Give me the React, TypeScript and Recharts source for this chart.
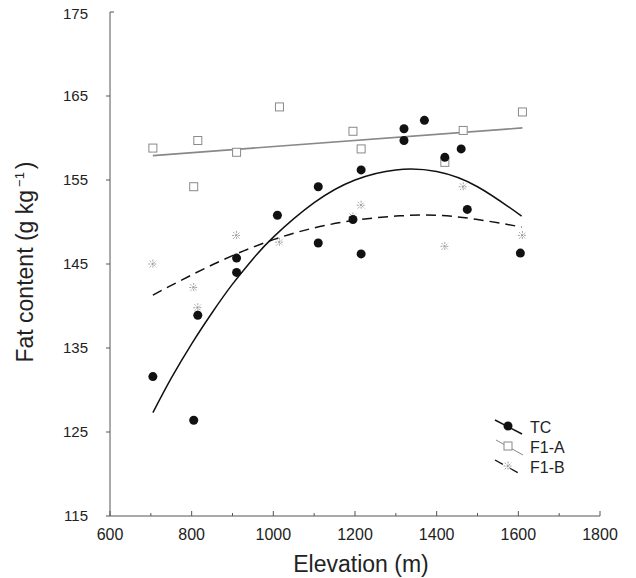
import { ComposedChart, Line, Scatter, XAxis, YAxis, Legend } from 'recharts'

// observed points (elevation m, fat content g/kg)
const tcPoints = [
  { x: 705, y: 131.6 }, { x: 805, y: 126.4 }, { x: 815, y: 138.9 },
  { x: 910, y: 145.7 }, { x: 910, y: 144.0 }, { x: 1010, y: 150.8 },
  { x: 1110, y: 154.2 }, { x: 1110, y: 147.5 }, { x: 1195, y: 150.3 },
  { x: 1215, y: 156.2 }, { x: 1215, y: 146.2 }, { x: 1320, y: 161.1 },
  { x: 1320, y: 159.7 }, { x: 1370, y: 162.1 }, { x: 1420, y: 157.7 },
  { x: 1460, y: 158.7 }, { x: 1475, y: 151.5 }, { x: 1605, y: 146.3 }
]

const f1aPoints = [
  { x: 705, y: 158.8 }, { x: 805, y: 154.2 }, { x: 815, y: 159.7 },
  { x: 910, y: 158.3 }, { x: 1015, y: 163.7 }, { x: 1195, y: 160.8 },
  { x: 1215, y: 158.7 }, { x: 1420, y: 157.1 }, { x: 1465, y: 160.9 },
  { x: 1610, y: 163.1 }
]

const f1bPoints = [
  { x: 705, y: 145.0 }, { x: 805, y: 142.2 }, { x: 815, y: 139.8 },
  { x: 910, y: 148.4 }, { x: 1015, y: 147.6 }, { x: 1195, y: 150.6 },
  { x: 1215, y: 152.0 }, { x: 1420, y: 147.1 }, { x: 1465, y: 154.2 },
  { x: 1610, y: 148.4 }
]

// fitted trend lines
const tcFit = [
  { x: 705, y: 127.3 }, { x: 750, y: 131.4 }, { x: 800, y: 135.5 },
  { x: 850, y: 139.2 }, { x: 900, y: 142.6 }, { x: 950, y: 145.6 },
  { x: 1000, y: 148.2 }, { x: 1100, y: 152.3 }, { x: 1200, y: 155.0 },
  { x: 1300, y: 156.2 }, { x: 1400, y: 156.0 }, { x: 1500, y: 154.2 },
  { x: 1608, y: 150.7 }
]

const f1aFit = [
  { x: 705, y: 157.9 }, { x: 1610, y: 161.2 }
]

const f1bFit = [
  { x: 705, y: 141.3 }, { x: 800, y: 143.7 }, { x: 900, y: 146.0 },
  { x: 1000, y: 147.9 }, { x: 1100, y: 149.3 }, { x: 1200, y: 150.2 },
  { x: 1300, y: 150.7 }, { x: 1400, y: 150.8 }, { x: 1500, y: 150.3 },
  { x: 1608, y: 149.4 }
]

const xTicks = [600, 700, 800, 900, 1000, 1100, 1200, 1300, 1400, 1500, 1600, 1700, 1800]
const yTicks = [115, 125, 135, 145, 155, 165, 175]

const FONT = 'Liberation Sans, Arial, sans-serif'
const TEXT = '#222'
const AXIS = '#555'

const Dot = (props: any) => {
  const { cx, cy } = props
  return <circle cx={cx} cy={cy} r={4.5} fill="#111" />
}

const Square = (props: any) => {
  const { cx, cy } = props
  return <rect x={cx - 4} y={cy - 4} width={8} height={8} fill="#fff" stroke="#8a8a8a" strokeWidth={1} />
}

const Star = (props: any) => {
  const { cx, cy } = props
  const r = 4.5
  return (
    <g stroke="#999" strokeWidth={0.9} strokeDasharray="2 1">
      <line x1={cx - r} y1={cy} x2={cx + r} y2={cy} />
      <line x1={cx} y1={cy - r} x2={cx} y2={cy + r} />
      <line x1={cx - r * 0.75} y1={cy - r * 0.75} x2={cx + r * 0.75} y2={cy + r * 0.75} />
      <line x1={cx - r * 0.75} y1={cy + r * 0.75} x2={cx + r * 0.75} y2={cy - r * 0.75} />
    </g>
  )
}

const XTick = (props: any) => {
  const { x, y, payload } = props
  const major = payload.value % 200 === 0
  return (
    <g>
      <line x1={x} x2={x} y1={y} y2={y - (major ? 5 : 3)} stroke={AXIS} />
      {major && (
        <text x={x} y={y + 24} textAnchor="middle" fontSize={16} fontFamily={FONT} fill={TEXT}>
          {payload.value}
        </text>
      )}
    </g>
  )
}

const YTick = (props: any) => {
  const { x, y, payload } = props
  const top = payload.value === 175
  return (
    <g>
      <line x1={top ? x : x - 4} x2={top ? x + 4 : x} y1={y} y2={y} stroke={AXIS} />
      <text x={x - 22} y={y + (top ? 7 : 5)} textAnchor="end" fontSize={15} fontFamily={FONT} fill={TEXT}>
        {payload.value}
      </text>
    </g>
  )
}

const legendItems = [
  { name: 'TC', kind: 'dot' },
  { name: 'F1-A', kind: 'square' },
  { name: 'F1-B', kind: 'star' }
]

const LegendBox = () => (
  <svg width={120} height={70}>
    {legendItems.map((it, i) => {
      const y0 = 12 + i * 20
      const cx = 20
      const cy = y0 + 6
      return (
        <g key={it.name}>
          {it.kind === 'dot' && <line x1={7} y1={y0} x2={34} y2={y0 + 14} stroke="#111" strokeWidth={1.5} />}
          {it.kind === 'square' && <line x1={8} y1={y0} x2={35} y2={y0 + 15} stroke="#888" strokeWidth={1} />}
          {it.kind === 'star' && <line x1={7} y1={y0} x2={34} y2={y0 + 15} stroke="#111" strokeWidth={1.3} strokeDasharray="9 8" />}
          {it.kind === 'dot' && <Dot cx={cx} cy={cy} />}
          {it.kind === 'square' && <Square cx={cx} cy={cy} />}
          {it.kind === 'star' && <Star cx={cx} cy={cy} />}
          <text x={42} y={y0 + 13} fontSize={16} fontFamily={FONT} fill={TEXT}>{it.name}</text>
        </g>
      )
    })}
  </svg>
)

const YLabel = () => (
  <text
    transform="translate(25, 262) rotate(-90)"
    textAnchor="middle"
    fontSize={23}
    fontFamily={FONT}
    fill={TEXT}
  >
    Fat content (g kg
    <tspan dx={3} dy={-9} fontSize={13}>−1</tspan>
    <tspan dx={3} dy={9}>)</tspan>
  </text>
)

export default function App() {
  return (
    <div style={{ marginTop: -8, width: 620, height: 578 }}>
      <ComposedChart
        width={620}
        height={578}
        margin={{ top: 12, right: 28, left: 0, bottom: 0 }}
      >
        <XAxis
          type="number"
          dataKey="x"
          domain={[600, 1800]}
          ticks={xTicks}
          interval={0}
          height={62}
          stroke={AXIS}
          tickSize={0}
          tickMargin={0}
          tick={<XTick />}
          label={{ value: 'Elevation (m)', position: 'insideBottom', offset: 0, fontSize: 23, fontFamily: FONT, fill: TEXT, dx: 6, dy: -6 }}
        />
        <YAxis
          type="number"
          dataKey="y"
          domain={[115, 175]}
          ticks={yTicks}
          interval={0}
          width={102}
          stroke={AXIS}
          tickSize={0}
          tickMargin={0}
          tick={<YTick />}
          label={<YLabel />}
        />
        <Legend
          layout="vertical"
          align="center"
          verticalAlign="middle"
          wrapperStyle={{ left: 480, top: 408, width: 120 }}
          content={() => <LegendBox />}
        />
        <Line data={f1aFit} dataKey="y" type="linear" stroke="#888" strokeWidth={1.6} dot={false} isAnimationActive={false} legendType="none" />
        <Line data={f1bFit} dataKey="y" type="natural" stroke="#111" strokeWidth={1.5} strokeDasharray="10 6" dot={false} isAnimationActive={false} legendType="none" />
        <Line data={tcFit} dataKey="y" type="natural" stroke="#111" strokeWidth={1.5} dot={false} isAnimationActive={false} legendType="none" />
        <Scatter name="F1-A" data={f1aPoints} shape={<Square />} isAnimationActive={false} />
        <Scatter name="F1-B" data={f1bPoints} shape={<Star />} isAnimationActive={false} />
        <Scatter name="TC" data={tcPoints} shape={<Dot />} isAnimationActive={false} />
      </ComposedChart>
    </div>
  )
}
